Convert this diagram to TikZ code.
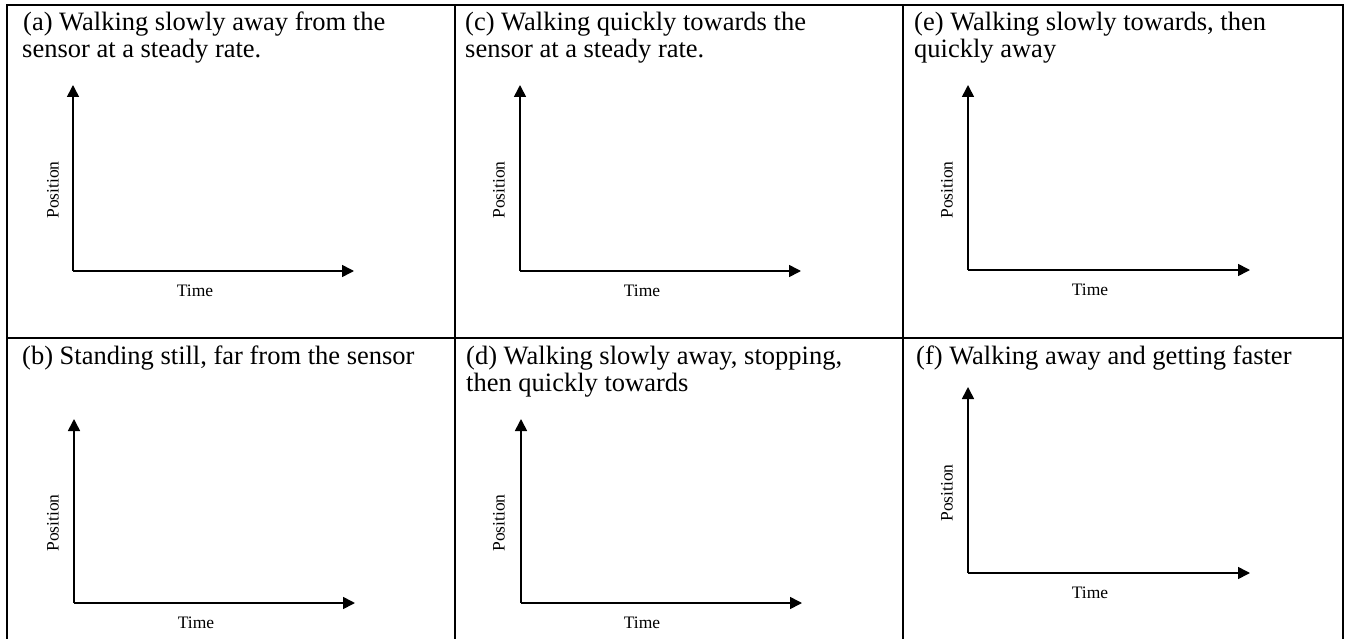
\documentclass[tikz,border=0pt]{standalone}
\usepackage{fontspec}
\setmainfont{Liberation Serif}
\usetikzlibrary{arrows.meta}
\begin{document}
\begin{tikzpicture}[x=1pt,y=-1pt,
  grid/.style={line width=2pt,black},
  axis/.style={line width=1.6pt,-{Triangle[length=12pt,width=12pt]}},
  heading/.style={anchor=base west,inner sep=0pt,font=\fontsize{26.5}{30}\selectfont},
  axlabel/.style={inner sep=0pt,font=\fontsize{17.5}{20}\selectfont}]
\useasboundingbox (0,0) rectangle (1354,639);
% table grid
\coordinate (tl) at (7,5);
\coordinate (tr) at (1343,5);
\coordinate (bl) at (7,650);
\coordinate (br) at (1343,650);
\coordinate (v1t) at (455,5);
\coordinate (v1b) at (455,650);
\coordinate (v2t) at (903,5);
\coordinate (v2b) at (903,650);
\coordinate (hl) at (7,338);
\coordinate (hr) at (1343,338);
\draw[grid] (bl) -- (tl) -- (tr) -- (br);
\draw[grid] (v1t) -- (v1b);
\draw[grid] (v2t) -- (v2b);
\draw[grid] (hl) -- (hr);
% headings
\node[heading] (a1) at (23,31) {(a) Walking slowly away from the};
\node[heading] (a2) at (22,58) {sensor at a steady rate.};
\node[heading] (c1) at (465,31) {(c) Walking quickly towards the};
\node[heading] (c2) at (465,58) {sensor at a steady rate.};
\node[heading] (e1) at (914,31) {(e) Walking slowly towards, then};
\node[heading] (e2) at (914,58) {quickly away};
\node[heading] (b1) at (22,364) {(b) Standing still, far from the sensor};
\node[heading] (d1) at (466,364) {(d) Walking slowly away, stopping,};
\node[heading] (d2) at (466,391) {then quickly towards};
\node[heading] (f1) at (916,364) {(f) Walking away and getting faster};
% panel (a)
\coordinate (oa) at (73,271); \coordinate (ya) at (73,85); \coordinate (xa) at (354,271);
\draw[axis] (oa) -- (ya); \draw[axis] (oa) -- (xa);
\node[axlabel] (ta) at (195,291) {Time};
\node[axlabel,rotate=90] (pa) at (53,190) {Position};
% panel (c)
\coordinate (oc) at (520,271); \coordinate (yc) at (520,85); \coordinate (xc) at (801,271);
\draw[axis] (oc) -- (yc); \draw[axis] (oc) -- (xc);
\node[axlabel] (tc) at (642,291) {Time};
\node[axlabel,rotate=90] (pc) at (499,190) {Position};
% panel (e)
\coordinate (oe) at (968,270); \coordinate (ye) at (968,85); \coordinate (xe) at (1250,270);
\draw[axis] (oe) -- (ye); \draw[axis] (oe) -- (xe);
\node[axlabel] (te) at (1090,290) {Time};
\node[axlabel,rotate=90] (pe) at (947,190) {Position};
% panel (b)
\coordinate (ob) at (74,603); \coordinate (yb) at (74,419); \coordinate (xb) at (355,603);
\draw[axis] (ob) -- (yb); \draw[axis] (ob) -- (xb);
\node[axlabel] (tb) at (196,623) {Time};
\node[axlabel,rotate=90] (pb) at (53,523) {Position};
% panel (d)
\coordinate (od) at (521,603); \coordinate (yd) at (521,419); \coordinate (xd) at (802,603);
\draw[axis] (od) -- (yd); \draw[axis] (od) -- (xd);
\node[axlabel] (td) at (642,623) {Time};
\node[axlabel,rotate=90] (pd) at (499,523) {Position};
% panel (f)
\coordinate (of) at (968,573); \coordinate (yf) at (968,387); \coordinate (xf) at (1250,573);
\draw[axis] (of) -- (yf); \draw[axis] (of) -- (xf);
\node[axlabel] (tf) at (1090,593) {Time};
\node[axlabel,rotate=90] (pf) at (947,493) {Position};
\end{tikzpicture}
\end{document}
